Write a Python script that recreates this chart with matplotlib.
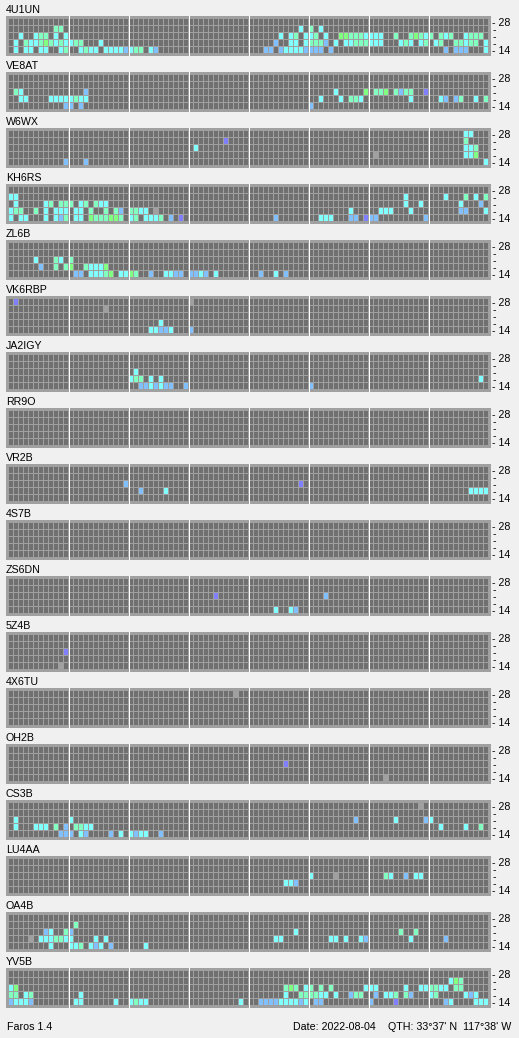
"""Faros beacon propagation grid: 18 beacons x 5 bands x 96 quarter-hour slots."""
import matplotlib
matplotlib.use('Agg')
import matplotlib.pyplot as plt

plt.rcParams.update({
    'font.family': ['Liberation Sans', 'DejaVu Sans'],
    'font.size': 7.7,
})

W, H = 519, 1038
N_SLOTS = 96
BAND_LABELS = ['- 28', '-', '-', '-', '- 14']   # rows top to bottom: 28, 24, 21, 18, 14 MHz

BG = '#f0f0f0'
BORDER = '#a0a0a0'
EMPTY = '#707070'
CELL_COLORS = {
    'c': '#80ffff',   # cyan
    'm': '#80ffc0',   # mint
    'g': '#80ff80',   # green
    'b': '#80c0ff',   # light blue
    'p': '#8080ff',   # purple
    'x': '#a0a0a0',   # gray
}

# one string per band row (28 .. 14), tokens are <colour code><slot>
st_4U1UN = [
    "",
    "m9 m10 c58 m60 c62",
    "c2 c5 m6 m7 c9 c11 c54 c56 m57 c59 c60 m61 c63 g66 g67 m68 m69 m70 c71 c72 c73 c74 m77 m80 g81 m82 c83 m84 m86 c87 m88 c91 m92 m93 m94",
    "c1 m3 c4 c5 m6 g7 m8 c9 m10 c11 c12 m13 m14 c18 b53 c56 c57 c59 m60 m61 m62 b63 c65 c67 c68 m69 m70 m71 c72 c73 c74 c78 m79 c80 c82 m83 c85 m86 m89 m90 c91 m92 m93 c95",
    "c1 c3 c4 c6 c7 c10 m11 c14 m15 c16 c17 c19 c20 c21 c22 b23 c24 m25 m26 c28 b29 b51 b52 b54 c55 c56 c57 c58 b59 b60 b61 b62 b64 b87 b89 b90 b91 c95",
]
st_VE8AT = [
    "",
    "",
    "m1 c2 b15 c65 g71 m73 m74 g75 m77 b78 m79 m80 p83",
    "c2 c3 c8 c9 c10 c11 c12 m13 c14 c15 c62 c66 m68 m69 c70 c80 c86 b87 b89 m90 c93 m95",
    "b11 b12 b14 b60",
]
st_W6WX = [
    "c91 c92",
    "p43 m91",
    "c37 c91 c92 m93",
    "x73 c91 c92 g93",
    "b11 b15 c95",
]
st_KH6RS = [
    "",
    "c0 c1 c79 c87 m91 c93 m95",
    "c1 c7 m8 m10 m11 m12 c14 m15 m17 c18 c19 c79 c82 c90 b94",
    "c0 m1 m2 m5 c7 c9 c10 c11 c13 c14 m16 m19 m21 b22 m24 m25 c26 c27 x29 c68 c74 c75 c76 c80 b90 b91 c95",
    "c0 c2 c3 c7 c9 b10 m11 c13 c14 g16 m17 m18 m19 g20 g21 m22 c24 m25 c27 c28 c29 m30 b32 p34 b53 c62 c63 c64 b68 b69 p71 b72 b73 b83",
]
st_ZL6B = [
    "",
    "",
    "c5 m9 c10 m12",
    "b6 m9 m11 g12 m15 c16 c17 c18 g19",
    "b13 b14 c16 c17 c18 m19 g20 c22 c23 g24 m25 b28 c31 c32 b33 b34 b36 b37 c38 b39 c41 b50 c53 b55",
]
st_VK6RBP = [
    "p1 x36",
    "x19",
    "",
    "c30",
    "c28 c29 b30 b31 c32 b36",
]
st_JA2IGY = [
    "",
    "",
    "c25",
    "c24 m25 m26 c28 c30 c94",
    "b26 b27 c28 b29 c30 b31 b32 b35 b60",
]
st_RR9O = ["", "", "", "", ""]
st_VR2B = [
    "",
    "",
    "b23 p58",
    "b26 c31 c92 c93 c94 c95",
    "",
]
st_4S7B = ["", "", "", "", ""]
st_ZS6DN = [
    "",
    "",
    "p41 b63",
    "",
    "c53 c56 b57",
]
st_5Z4B = [
    "",
    "",
    "p11",
    "",
    "x10",
]
st_4X6TU = ["x45", "", "", "", ""]
st_OH2B = [
    "",
    "",
    "p55",
    "",
    "x75",
]
st_CS3B = [
    "x82",
    "",
    "c1 c12 b69 c77 b83 c84",
    "c1 c5 c6 c7 m9 b11 m13 m14 c15 c16 c86 c91 m94",
    "b10 b11 b12 c14 b15 b20 c22 c24 b25 c26 c27 b30",
]
st_LU4AA = [
    "",
    "",
    "c60 x65 m75 c76 b79 c81 c82",
    "c55 c56 b57",
    "",
]
st_OA4B = [
    "",
    "m13",
    "b7 c8 m11 b12 c57 m78 m81",
    "x4 c6 c7 c8 m9 m10 c11 c12 c17 c19 c53 c54 c64 c65 c67 c70 b71 c80 b87",
    "c8 c12 c13 m14 c16 b17 c18 b20 c27",
]
st_YV5B = [
    "",
    "c88 g89 m90",
    "c0 g1 m55 g56 m57 c59 m60 m62 m64 c71 c72 c73 c79 c82 c83 m84 m85 c86 c87 m89 m90",
    "m0 m1 c3 m4 c14 c55 m58 m59 m60 m61 c62 c63 c65 b68 m69 m70 b73 c75 c76 m77 m79 b80 c84 m85 c91 b92 c93",
    "b0 c1 c2 c3 b4 c13 c14 c21 c24 m25 c26 c27 c46 b50 b51 b52 b53 c54 c55 c56 c57 b58 c59 b61 b62 b72 p77 b87 c88 c93 c94 c95",
]

STATIONS = [
    ('4U1UN', st_4U1UN), ('VE8AT', st_VE8AT), ('W6WX', st_W6WX),
    ('KH6RS', st_KH6RS), ('ZL6B', st_ZL6B), ('VK6RBP', st_VK6RBP),
    ('JA2IGY', st_JA2IGY), ('RR9O', st_RR9O), ('VR2B', st_VR2B),
    ('4S7B', st_4S7B), ('ZS6DN', st_ZS6DN), ('5Z4B', st_5Z4B),
    ('4X6TU', st_4X6TU), ('OH2B', st_OH2B), ('CS3B', st_CS3B),
    ('LU4AA', st_LU4AA), ('OA4B', st_OA4B), ('YV5B', st_YV5B),
]


def parse_rows(rows):
    """Turn the token strings into {(row, slot): colour}."""
    fill = {}
    for r, line in enumerate(rows):
        for tok in line.split():
            fill[(r, int(tok[1:]))] = CELL_COLORS[tok[0]]
    return fill


fig = plt.figure(figsize=(W / 100, H / 100), dpi=100)
fig.patch.set_facecolor(BG)

for i, (name, rows) in enumerate(STATIONS):
    top = 16 + 56 * i
    ax = fig.add_axes([6 / W, 1 - (top + 40) / H, 485 / W, 40 / H])
    ax.set_facecolor(BORDER)
    ax.set_xlim(-0.6, N_SLOTS + 0.4)
    ax.set_ylim(37 / 7, -3 / 7)

    fill = parse_rows(rows)
    xs, ys, cols = [], [], []
    for r in range(len(BAND_LABELS)):
        for c in range(N_SLOTS):
            xs.append(c)
            ys.append(r)
            cols.append(fill.get((r, c), EMPTY))
    ax.bar(xs, 6 / 7, width=0.8, bottom=ys, align='edge', color=cols,
           linewidth=0, antialiased=False)

    # 3-hour separators
    for k in range(12, N_SLOTS, 12):
        ax.axvline(k - 0.1, color='white', lw=0.72, antialiased=False)

    ax.set_xticks([])
    ax.yaxis.tick_right()
    ax.set_yticks([r + 3 / 7 for r in range(len(BAND_LABELS))])
    ax.set_yticklabels(BAND_LABELS)
    ax.tick_params(axis='y', length=0, pad=0.8, labelsize=7.7)
    for s in ax.spines.values():
        s.set_visible(False)
    ax.set_title(name, loc='left', pad=2.2, fontsize=7.7)

base = 1 - 1030 / H
fig.text(7 / W, base, 'Faros 1.4', va='baseline')
fig.text(293 / W, base, 'Date: 2022-08-04', va='baseline')
fig.text(388 / W, base, "QTH: 33\u00b037' N  117\u00b038' W", va='baseline')

fig.savefig('out.png', dpi=100, facecolor=BG)
